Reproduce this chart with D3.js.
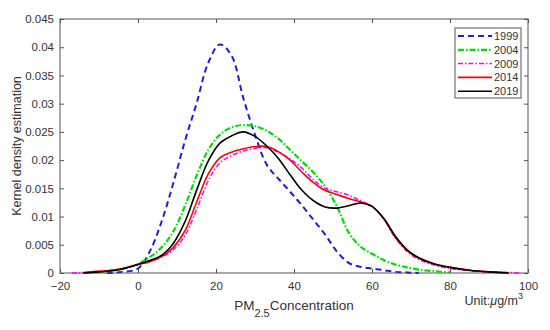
<!DOCTYPE html>
<html>
<head>
<meta charset="utf-8">
<script src="https://cdn.jsdelivr.net/npm/d3@7"></script>
<style>
  html, body { margin: 0; padding: 0; background: #fff; }
  svg { display: block; font-family: "Liberation Sans", Arial, sans-serif; }
</style>
</head>
<body>
<svg id="chart" width="550" height="330"></svg>
<script>
// PM2.5 grid (µg/m3)
const pm = [-17,-14,-12,-8,-4,0,3,6,9,12,15,18,21,24,27,30,33,36,39,42,45,48,51,54,57,60,63,66,69,72,76,80,85,90,95,98];
const years = ["1999","2004","2009","2014","2019"];
const kde1999 = [null,null,null,0,0.0002,0.0008,0.0038,0.0090,0.0158,0.0233,0.0300,0.0372,0.0405,0.0385,0.0310,0.0245,0.0192,0.0167,0.0144,0.0120,0.0094,0.0068,0.0038,0.0018,0.0011,0.0008,0.0005,0.0002,0.0001,0,null,null,null,null,null,null];
const kde2004 = [null,0,0.0001,0.0003,0.0007,0.0016,0.0028,0.0045,0.0073,0.0118,0.0172,0.0218,0.0245,0.0258,0.0262,0.0260,0.0252,0.0238,0.0218,0.0198,0.0178,0.0153,0.0118,0.0072,0.0047,0.0034,0.0023,0.0015,0.0010,0.0006,0.0003,0.0001,null,null,null,null];
const kde2009 = [0,0.0001,0.0002,0.0004,0.0008,0.0015,0.0020,0.0028,0.0041,0.0066,0.0112,0.0163,0.0195,0.0208,0.0216,0.0221,0.0222,0.0214,0.0202,0.0186,0.0165,0.0150,0.0144,0.0138,0.0128,0.0118,0.0096,0.0062,0.0038,0.0024,0.0014,0.0008,0.0004,0.0002,0.0001,0];
const kde2014 = [null,0,0.0002,0.0004,0.0008,0.0015,0.0020,0.0029,0.0045,0.0074,0.0125,0.0175,0.0204,0.0214,0.0220,0.0224,0.0224,0.0215,0.0200,0.0179,0.0160,0.0146,0.0139,0.0132,0.0126,0.0118,0.0096,0.0063,0.0040,0.0026,0.0016,0.0010,0.0005,0.0002,0,null];
const kde2019 = [null,0,0.0001,0.0003,0.0007,0.0015,0.0022,0.0031,0.0052,0.0090,0.0146,0.0198,0.0230,0.0243,0.0250,0.0242,0.0225,0.0203,0.0174,0.0147,0.0128,0.0117,0.0115,0.0119,0.0124,0.0118,0.0097,0.0065,0.0041,0.0027,0.0016,0.0010,0.0005,0.0002,0,null];
const xTicks = [-20,0,20,40,60,80,100];
const yTicks = [0,0.005,0.01,0.015,0.02,0.025,0.03,0.035,0.04,0.045];

const seriesValues = [kde1999,kde2004,kde2009,kde2014,kde2019];
const styles = [
  {color:"#1f1fd6", width:2,   dash:"6,4"},
  {color:"#00e000", width:2.2, dash:"6,2,1.5,2"},
  {color:"#ff00ff", width:1.5, dash:"5,2,1.5,2"},
  {color:"#ff0000", width:1.6, dash:null},
  {color:"#000000", width:1.6, dash:null}
];

const svg = d3.select("#chart");
const L = 60, R = 528, T = 19, B = 273;
const x = d3.scaleLinear().domain([-20,100]).range([L,R]);
const y = d3.scaleLinear().domain([0,0.045]).range([B,T]);
const axisColor = "#555";
const labelColor = "#333";

// frame
svg.append("rect").attr("x",L).attr("y",T).attr("width",R-L).attr("height",B-T)
  .attr("fill","none").attr("stroke",axisColor).attr("stroke-width",1);

// curves
const line = d3.line().defined(d => d[1] !== null)
  .x(d => x(d[0])).y(d => Math.min(y(d[1]), B)).curve(d3.curveCatmullRom.alpha(0.5));
const gLines = svg.append("g");
seriesValues.forEach((vals,i) => {
  const pts = pm.map((p,j) => [p, vals[j]]);
  const st = styles[i];
  gLines.append("path").datum(pts).attr("d", line)
    .attr("fill","none").attr("stroke",st.color).attr("stroke-width",st.width)
    .attr("stroke-dasharray", st.dash).attr("stroke-linejoin","round");
});

// axes (ticks inward, mirrored)
const fmtX = d => d < 0 ? "\u2212" + Math.abs(d) : String(d);
const fmtY = d => d === 0 ? "0" : String(+d.toFixed(3));
const gBottom = svg.append("g").attr("transform",`translate(0,${B})`)
  .call(d3.axisBottom(x).tickValues(xTicks).tickSize(-4).tickPadding(9).tickFormat(fmtX));
const gTop = svg.append("g").attr("transform",`translate(0,${T})`)
  .call(d3.axisTop(x).tickValues(xTicks).tickSize(-4).tickFormat(""));
const gLeft = svg.append("g").attr("transform",`translate(${L},0)`)
  .call(d3.axisLeft(y).tickValues(yTicks).tickSize(-4).tickPadding(6).tickFormat(fmtY));
const gRight = svg.append("g").attr("transform",`translate(${R},0)`)
  .call(d3.axisRight(y).tickValues(yTicks).tickSize(-4).tickFormat(""));
[gBottom,gTop,gLeft,gRight].forEach(g => {
  g.select(".domain").remove();
  g.selectAll(".tick line").attr("stroke",axisColor);
  g.selectAll(".tick text").attr("fill",labelColor).style("font-size","11.5px")
    .style("font-family","'Liberation Sans', Arial, sans-serif");
});

// y label
svg.append("text").attr("transform","translate(21,146) rotate(-90)")
  .attr("text-anchor","middle").attr("fill",labelColor).style("font-size","12.5px")
  .text("Kernel density estimation");

// x label with subscript
const xl = svg.append("text").attr("x",294).attr("y",310).attr("text-anchor","middle")
  .attr("fill",labelColor).style("font-size","13.5px");
xl.append("tspan").text("PM");
xl.append("tspan").attr("dy",7).style("font-size","11px").text("2.5");
xl.append("tspan").attr("dy",-7).text("Concentration");

// unit
const ul = svg.append("text").attr("x",523).attr("y",305).attr("text-anchor","end")
  .attr("fill",labelColor).style("font-size","12.5px");
ul.append("tspan").text("Unit:");
ul.append("tspan").style("font-style","italic").text("\u03bc");
ul.append("tspan").text("g/m");
ul.append("tspan").attr("dy",-6).style("font-size","9px").text("3");

// legend
const lg = svg.append("g");
lg.append("rect").attr("x",455).attr("y",28).attr("width",66).attr("height",70)
  .attr("fill","#fff").attr("stroke",axisColor).attr("stroke-width",1);
years.forEach((yr,i) => {
  const yy = 36 + i*13.8;
  const st = styles[i];
  lg.append("line").attr("x1",458).attr("x2",492).attr("y1",yy).attr("y2",yy)
    .attr("stroke",st.color).attr("stroke-width",st.width).attr("stroke-dasharray",st.dash);
  lg.append("text").attr("x",494).attr("y",yy+4).attr("fill",labelColor)
    .style("font-size","11px").text(yr);
});
</script>
</body>
</html>
